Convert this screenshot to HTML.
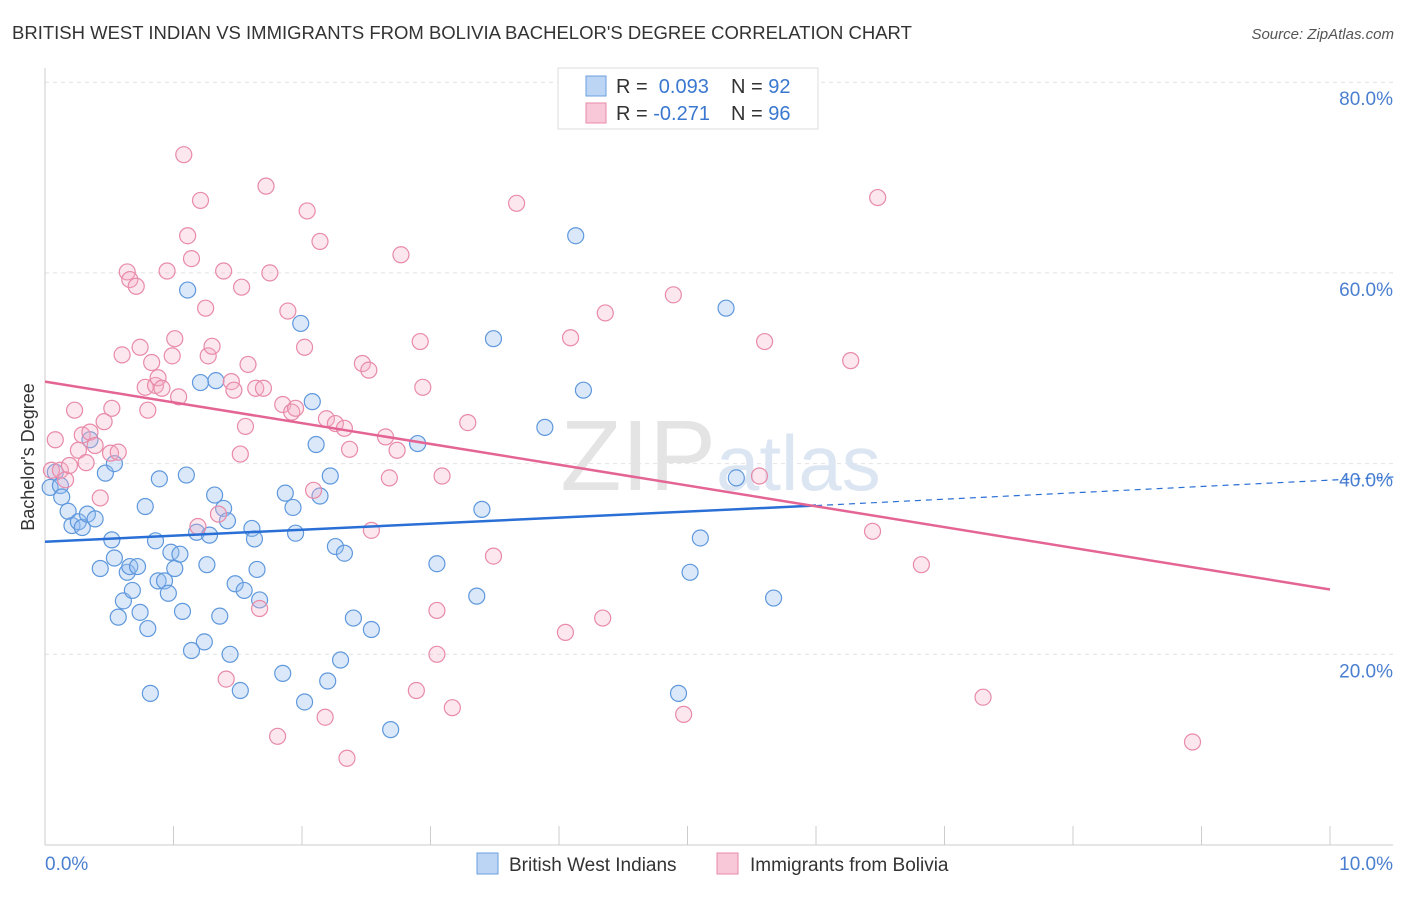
<!DOCTYPE html>
<html><head><meta charset="utf-8"><style>
body{margin:0;background:#fff;font-family:"Liberation Sans",sans-serif}
svg text{font-family:"Liberation Sans",sans-serif}
</style></head><body>
<svg id="c" width="1406" height="892">
<text x="12" y="39" font-size="18.5" fill="#333">BRITISH WEST INDIAN VS IMMIGRANTS FROM BOLIVIA BACHELOR'S DEGREE CORRELATION CHART</text>
<text x="1394" y="39" font-size="15" fill="#555" font-style="italic" text-anchor="end">Source: ZipAtlas.com</text>
<g id="grid"></g>
<text x="716" y="490" font-size="100" fill="#e4e4e4" text-anchor="end" font-family="Liberation Serif">ZIP</text>
<text x="716" y="490" font-size="78" fill="#dce6f2">atlas</text>
<g id="axes"></g>
<g id="pts"></g>
<g id="trend"></g>
<text transform="translate(34,457) rotate(-90)" font-size="18" fill="#333" text-anchor="middle">Bachelor's Degree</text>
<g>
<rect x="558" y="68" width="260" height="61" fill="#fff" stroke="#ddd"/>
<rect x="586" y="76" width="20" height="20" fill="#bcd5f5" stroke="#6a9fdc"/>
<rect x="586" y="103" width="20" height="20" fill="#f8c8d8" stroke="#e88aa8"/>
<text x="616" y="93" font-size="20" fill="#333">R = <tspan fill="#3a78d0">&#160;0.093</tspan><tspan x="731">N = </tspan><tspan fill="#3a78d0">92</tspan></text>
<text x="616" y="120" font-size="20" fill="#333">R = <tspan fill="#3a78d0">-0.271</tspan><tspan x="731">N = </tspan><tspan fill="#3a78d0">96</tspan></text>
</g>
<g>
<rect x="477" y="853" width="21" height="21" fill="#bcd5f5" stroke="#6a9fdc"/>
<text x="509" y="871" font-size="19" fill="#333">British West Indians</text>
<rect x="717" y="853" width="21" height="21" fill="#f8c8d8" stroke="#e88aa8"/>
<text x="750" y="871" font-size="19" fill="#333">Immigrants from Bolivia</text>
</g>
</svg>
<script>
const yTicks=[20,40,60,80];
const xTickLabels=["0.0%","10.0%"];
const blueX=[0.04,0.08,0.12,0.13,0.18,0.21,0.26,0.29,0.33,0.39,0.43,0.47,0.52,0.54,0.57,0.61,0.64,0.66,0.68,0.72,0.74,0.78,0.80,0.82,0.86,0.88,0.89,0.93,0.96,0.98,1.01,1.05,1.07,1.10,1.14,1.18,1.21,1.24,1.26,1.28,1.32,1.33,1.36,1.39,1.42,1.44,1.48,1.52,1.55,1.61,1.63,1.65,1.67,1.85,1.87,1.93,1.95,1.99,2.02,2.08,2.11,2.14,2.22,2.26,2.30,2.33,2.20,2.40,2.54,2.69,2.90,3.05,3.36,3.40,3.49,3.89,4.13,4.19,4.93,5.02,5.10,5.30,5.38,5.67,1.11,0.35,0.54];
const blueY=[37.5,39.1,37.7,36.5,35.0,33.5,33.9,33.3,34.7,34.2,29.0,39.0,32.0,30.1,23.9,25.6,28.6,29.2,26.7,29.2,24.4,35.5,22.7,15.9,31.9,27.7,38.4,27.7,26.4,30.7,29.0,30.5,24.5,38.8,20.4,32.8,48.5,21.3,29.4,32.5,36.7,48.7,24.0,35.3,34.0,20.0,27.4,16.2,26.7,33.2,32.1,28.9,25.7,18.0,36.9,35.4,32.7,54.7,15.0,46.5,42.0,36.6,38.7,31.3,19.4,30.6,17.2,23.8,22.6,12.1,42.1,29.5,26.1,35.2,53.1,43.8,63.9,47.7,15.9,28.6,32.2,56.3,38.5,25.9,58.2,42.5,40.0];
const pinkX=[0.08,0.05,0.12,0.16,0.19,0.23,0.26,0.29,0.32,0.35,0.39,0.43,0.46,0.51,0.52,0.57,0.60,0.64,0.66,0.71,0.74,0.78,0.80,0.83,0.86,0.88,0.91,0.95,0.99,1.01,1.04,1.08,1.11,1.14,1.19,1.21,1.25,1.27,1.30,1.35,1.39,1.41,1.45,1.47,1.52,1.53,1.56,1.58,1.64,1.67,1.70,1.72,1.75,1.81,1.85,1.89,1.92,1.95,2.02,2.04,2.09,2.14,2.18,2.19,2.26,2.33,2.35,2.37,2.47,2.52,2.54,2.65,2.68,2.74,2.77,2.89,2.92,2.94,3.05,3.05,3.09,3.17,3.29,3.49,3.67,4.05,4.09,4.34,4.36,4.89,4.97,5.56,5.60,6.27,6.44,6.48,6.82,7.30,8.93];
const pinkY=[42.5,39.3,39.3,38.3,39.8,45.6,41.4,43.0,40.1,43.3,41.9,36.4,44.4,41.1,45.8,41.2,51.4,60.1,59.3,58.6,52.2,48.0,45.6,50.6,48.2,49.0,47.9,60.2,51.3,53.1,47.0,72.4,63.9,61.5,33.4,67.6,56.3,51.3,52.3,34.7,60.2,17.4,48.6,47.7,41.0,58.5,43.9,50.4,47.9,24.8,47.9,69.1,60.0,11.4,46.2,56.0,45.4,45.8,52.2,66.5,37.2,63.3,13.4,44.7,44.2,43.7,9.1,41.5,50.5,49.8,33.0,42.8,38.5,41.4,61.9,16.2,52.8,48.0,20.0,24.6,38.7,14.4,44.3,30.3,67.3,22.3,53.2,23.8,55.8,57.7,13.7,38.7,52.8,50.8,32.9,67.9,29.4,15.5,10.8];
const blueTrend=[[0,31.8],[6.0,35.6]];
const blueTrendExt=[[6.0,35.6],[10.5,38.6]];
const pinkTrend=[[0,48.6],[10,26.8]];
const NS="http://www.w3.org/2000/svg";
const X=v=>45+v*128.5, Y=v=>845-v*9.535;
function mk(t,a,p){const e=document.createElementNS(NS,t);for(const k in a)e.setAttribute(k,a[k]);p.appendChild(e);return e;}
const grid=document.getElementById('grid'),axes=document.getElementById('axes');
yTicks.forEach(t=>{
 const l=mk('line',{x1:45,x2:1393,y1:Y(t),y2:Y(t),stroke:'#e2e2e2','stroke-dasharray':'4,4'},grid);
 
 
 const tx=mk('text',{x:1393,y:Y(t)+23,'font-size':19,fill:'#4a7fd0','text-anchor':'end'},axes);
 tx.textContent=t.toFixed(1)+'%';
 
 
});
mk('line',{x1:45,x2:45,y1:68,y2:845,stroke:'#ccc'},axes);
mk('line',{x1:45,x2:1393,y1:845,y2:845,stroke:'#ccc'},axes);
for(let i=0;i<=10;i++){mk('line',{x1:X(i),x2:X(i),y1:826,y2:845,stroke:'#ccc'},axes);}
const xl0=mk('text',{x:45,y:870,'font-size':19,fill:'#4a7fd0'},axes);xl0.textContent=xTickLabels[0];


const xl1=mk('text',{x:1393,y:870,'font-size':19,fill:'#4a7fd0','text-anchor':'end'},axes);xl1.textContent=xTickLabels[1];


const pts=document.getElementById('pts');
blueX.forEach((v,i)=>{const c=mk('circle',{cx:X(v),cy:Y(blueY[i]),r:8,fill:'rgba(150,190,240,0.35)',stroke:'#5f98dc','stroke-width':1.2},pts);
 
 });
pinkX.forEach((v,i)=>{const c=mk('circle',{cx:X(v),cy:Y(pinkY[i]),r:8,fill:'rgba(245,175,200,0.3)',stroke:'#e88aa8','stroke-width':1.2},pts);
 
 });
const tr=document.getElementById('trend');
const b=mk('line',{x1:X(blueTrend[0][0]),y1:Y(blueTrend[0][1]),x2:X(blueTrend[1][0]),y2:Y(blueTrend[1][1]),stroke:'#2a6fd6','stroke-width':2.5},tr);


const bd=mk('line',{x1:X(blueTrendExt[0][0]),y1:Y(blueTrendExt[0][1]),x2:X(blueTrendExt[1][0]),y2:Y(blueTrendExt[1][1]),stroke:'#2a6fd6','stroke-width':1.2,'stroke-dasharray':'6,5'},tr);


const p=mk('line',{x1:X(pinkTrend[0][0]),y1:Y(pinkTrend[0][1]),x2:X(pinkTrend[1][0]),y2:Y(pinkTrend[1][1]),stroke:'#e46494','stroke-width':2.5},tr);


</script>
</body></html>
